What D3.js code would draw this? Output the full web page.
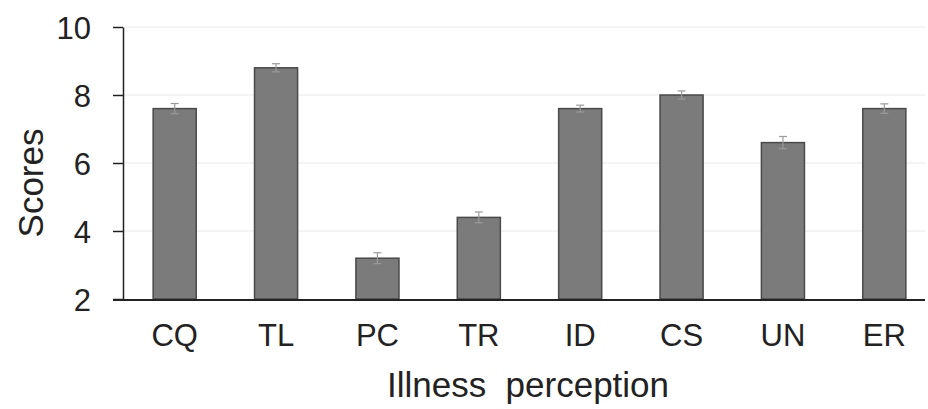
<!DOCTYPE html>
<html><head><meta charset="utf-8">
<script src="https://cdn.jsdelivr.net/npm/d3@7"></script>
<style>body{margin:0;background:#fff}svg{display:block}text{font-family:"Liberation Sans",Arial,sans-serif;fill:#222}</style>
</head><body><svg id="c" width="928" height="409"></svg>
<script>
const categories = ["CQ","TL","PC","TR","ID","CS","UN","ER"];
const scores = [7.6, 8.8, 3.2, 4.4, 7.6, 8.0, 6.6, 7.6];
const errors = [0.15, 0.12, 0.16, 0.16, 0.1, 0.12, 0.18, 0.14];
const yTicks = [2,4,6,8,10];

const svg = d3.select("#c");
const x = d3.scaleBand().domain(categories).range([124, 935]).paddingInner(0.575).paddingOuter(0.2875);
const y = d3.scaleLinear().domain([2,10]).range([299, 27]);

// faint gridlines
svg.append("g").selectAll("line").data(yTicks.slice(1)).join("line")
  .attr("x1",123).attr("x2",925).attr("y1",d=>y(d)).attr("y2",d=>y(d))
  .attr("stroke","#f0f0f0").attr("stroke-width",1.5);

// bars
svg.append("g").selectAll("rect").data(categories).join("rect")
  .attr("x",d=>x(d)).attr("width",x.bandwidth())
  .attr("y",(d,i)=>y(scores[i])).attr("height",(d,i)=>y(2)-y(scores[i]))
  .attr("fill","#7b7b7b").attr("stroke","#4a4a4a").attr("stroke-width",1.5);

// error bars
const eb = svg.append("g").attr("stroke","#9a9a9a").attr("stroke-width",1.2);
categories.forEach((c,i)=>{
  const cx = x(c)+x.bandwidth()/2;
  eb.append("line").attr("x1",cx).attr("x2",cx).attr("y1",y(scores[i]+errors[i])).attr("y2",y(scores[i]-errors[i]));
  eb.append("line").attr("x1",cx-4).attr("x2",cx+4).attr("y1",y(scores[i]+errors[i])).attr("y2",y(scores[i]+errors[i]));
  eb.append("line").attr("x1",cx-4).attr("x2",cx+4).attr("y1",y(scores[i]-errors[i])).attr("y2",y(scores[i]-errors[i]));
});

// y axis
const ya = svg.append("g").attr("transform","translate(123,0)")
  .call(d3.axisLeft(y).tickValues(yTicks).tickSize(10).tickPadding(22).tickSizeOuter(0));
ya.select(".domain").attr("stroke","#222").attr("stroke-width",1.5);
ya.selectAll(".tick line").attr("stroke","#222").attr("stroke-width",1.5);
ya.selectAll(".tick text").attr("font-size",31).attr("dy","0.36em").style("fill","#222");

// x axis
const xa = svg.append("g").attr("transform","translate(0,300)")
  .call(d3.axisBottom(x).tickSize(0).tickPadding(24).tickSizeOuter(0));
xa.select(".domain").remove();
xa.append("line").attr("x1",113).attr("x2",925).attr("y1",0).attr("y2",0).attr("stroke","#222").attr("stroke-width",1.8);
xa.selectAll(".tick text").attr("font-size",31).attr("dy","0.71em").style("fill","#222");

// axis titles
svg.append("text").attr("x",528).attr("y",397).attr("text-anchor","middle").attr("font-size",35)
  .style("white-space","pre").text("Illness  perception");
svg.append("text").attr("transform","translate(43,183) rotate(-90)").attr("text-anchor","middle").attr("font-size",35).text("Scores");
</script></body></html>
